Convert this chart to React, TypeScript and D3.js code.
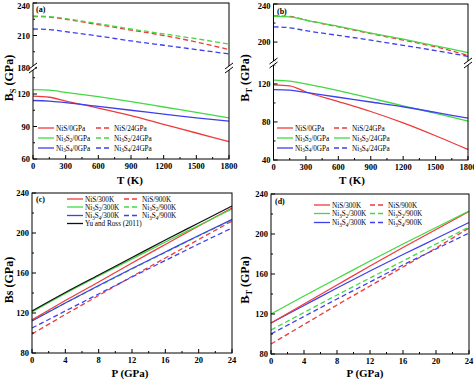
import React from 'react';
import * as d3 from 'd3';

// ---------- data ----------
const tempsK = [0, 150, 300, 600, 900, 1200, 1500, 1800];
const pressGPa = [0, 4, 8, 12, 16, 20, 24];

// (a) adiabatic bulk modulus vs T
const aNiS0 = [118, 117, 113.5, 107, 100, 92, 84, 76];
const aNi3S2_0 = [124, 123.5, 121.5, 117.5, 113, 108, 103, 98];
const aNi3S4_0 = [114, 113.5, 112, 108.5, 105, 101.5, 98, 95];
const aNiS24 = [227.5, 227, 225, 220, 215, 210, 204, 197];
const aNi3S2_24 = [228, 227.5, 225.5, 221, 216, 211.5, 207, 202];
const aNi3S4_24 = [216, 215.5, 213.5, 209.5, 205, 201, 197, 193];

// (b) isothermal bulk modulus vs T
const bNiS0 = [119, 118, 111.5, 101.5, 91, 79, 65.5, 51];
const bNi3S2_0 = [124, 123, 120, 113, 105, 97, 89, 81];
const bNi3S4_0 = [114, 113.5, 111, 106, 101, 96, 90, 84];
const bNiS24 = [227.5, 227, 223, 216, 209, 202, 195, 186];
const bNi3S2_24 = [227, 226.5, 223, 216.5, 209.5, 203, 196, 189];
const bNi3S4_24 = [216, 215, 212, 207, 202, 196.5, 191, 185];

// (c) adiabatic bulk modulus vs P
const cNiS300 = [113, 132.5, 151, 170, 188.5, 207, 225];
const cNi3S2_300 = [121, 139.5, 157, 174, 191, 207.5, 224];
const cNi3S4_300 = [112, 130, 147.5, 164.5, 181, 197.5, 213.5];
const cYuRoss = [122, 140.5, 158, 175.5, 193, 210, 227];
const cNiS900 = [99, 118.5, 137.5, 156.5, 175, 193.5, 212];
const cNi3S2_900 = [113, 130, 147, 164, 180.5, 197, 213];
const cNi3S4_900 = [105, 122, 139, 156, 172.5, 189, 205];

// (d) isothermal bulk modulus vs P
const dNiS300 = [111, 130, 149, 168, 186.5, 204.5, 222.5];
const dNi3S2_300 = [120, 138, 155.5, 173, 190, 206.5, 223];
const dNi3S4_300 = [111, 128.5, 146, 163, 179.5, 195.5, 211.5];
const dNiS900 = [90, 109.5, 129, 148, 167, 186, 206];
const dNi3S2_900 = [104, 121.5, 139, 156, 173, 190, 207];
const dNi3S4_900 = [100, 117.5, 135, 152, 169, 185, 201];

const tTicks = [0, 300, 600, 900, 1200, 1500, 1800];
const tMinor = [150, 450, 750, 1050, 1350, 1650];
const pTicks = [0, 4, 8, 12, 16, 20, 24];
const pMinor = [2, 6, 10, 14, 18, 22];

const RED = '#ee3b3b';
const GREEN = '#44d844';
const BLUE = '#3f3fee';
const BLACK = '#111111';
const FONT = '"Liberation Serif", "Times New Roman", serif';

type Series = { values: number[]; color: string; dashed: boolean; label: string };

const Formula = ({ label }: { label: string }) => {
  const idx = label.indexOf('/');
  if (idx < 0) return <>{label}</>;
  const formula = label.slice(0, idx);
  const rest = label.slice(idx);
  const parts: React.ReactNode[] = [];
  const re = /([A-Za-z]+)(\d*)/g;
  let m;
  let k = 0;
  let shifted = false;
  while ((m = re.exec(formula)) !== null) {
    parts.push(<tspan key={k++} dy={shifted ? -1.8 : 0}>{m[1]}</tspan>);
    shifted = false;
    if (m[2]) {
      parts.push(<tspan key={k++} dy={1.8} fontSize="0.7em">{m[2]}</tspan>);
      shifted = true;
    }
  }
  parts.push(<tspan key={k++} dy={shifted ? -1.8 : 0}>{rest}</tspan>);
  return <>{parts}</>;
};

type PanelProps = {
  left: number; right: number; top: number; bottom: number;
  xDomain: [number, number]; xs: number[]; xTicks: number[]; xMinor: number[];
  yDomain: number[]; yRange: number[]; yTicks: number[]; yMinor: number[];
  breakY?: number;
  series: Series[];
  legendCols: { x: number; ys: number[]; items: number[] }[];
  tag: string; tagPos: [number, number];
  xTitle: string; xTitlePos: [number, number];
  yTitle: React.ReactNode; yTitlePos: [number, number];
};

const Panel = (p: PanelProps) => {
  const x = d3.scaleLinear().domain(p.xDomain).range([p.left, p.right]);
  const y = d3.scaleLinear().domain(p.yDomain).range(p.yRange);
  const line = d3
    .line<number>()
    .x((_, i) => x(p.xs[i]))
    .y((d) => y(d))
    .curve(d3.curveMonotoneX);
  const tk = 4;
  const mk = 2;
  return (
    <g fontFamily={FONT}>
      {p.series.map((s, i) => (
        <path
          key={i}
          d={line(s.values) || ''}
          fill="none"
          stroke={s.color}
          strokeWidth={1.3}
          strokeDasharray={s.dashed ? '5,3' : undefined}
        />
      ))}
      <rect x={p.left} y={p.top} width={p.right - p.left} height={p.bottom - p.top} fill="none" stroke="#000" strokeWidth={1} />
      {p.xTicks.map((t) => (
        <g key={'xt' + t}>
          <line x1={x(t)} x2={x(t)} y1={p.bottom} y2={p.bottom - tk} stroke="#000" />
          <text x={x(t)} y={p.bottom + 10} fontSize={8.5} fontWeight="bold" textAnchor="middle">{t}</text>
        </g>
      ))}
      {p.xMinor.map((t) => (
        <line key={'xm' + t} x1={x(t)} x2={x(t)} y1={p.bottom} y2={p.bottom - mk} stroke="#000" />
      ))}
      {p.yTicks.map((t) => (
        <g key={'yt' + t}>
          <line x1={p.left} x2={p.left + tk} y1={y(t)} y2={y(t)} stroke="#000" />
          <text x={p.left - 3} y={Math.max(y(t) + 3, 8.5)} fontSize={8.5} fontWeight="bold" textAnchor="end">{t}</text>
        </g>
      ))}
      {p.yMinor.map((t) => (
        <line key={'ym' + t} x1={p.left} x2={p.left + mk} y1={y(t)} y2={y(t)} stroke="#000" />
      ))}
      {p.breakY !== undefined &&
        [p.left, p.right].map((bx) => (
          <g key={'br' + bx}>
            <rect x={bx - 2} y={p.breakY! - 2} width={4} height={4} fill="#fff" />
            <line x1={bx - 4} y1={p.breakY! + 1} x2={bx + 4} y2={p.breakY! - 5} stroke="#000" strokeWidth={1} />
            <line x1={bx - 4} y1={p.breakY! + 5} x2={bx + 4} y2={p.breakY! - 1} stroke="#000" strokeWidth={1} />
          </g>
        ))}
      {p.legendCols.map((col, ci) =>
        col.items.map((si, ri) => {
          const s = p.series[si];
          const ly = col.ys[ri];
          return (
            <g key={'lg' + ci + '_' + ri}>
              <line x1={col.x} x2={col.x + 16} y1={ly} y2={ly} stroke={s.color} strokeWidth={1.3} strokeDasharray={s.dashed ? '5,3' : undefined} />
              <text x={col.x + 18} y={ly + 2.5} fontSize={7.2}>
                <Formula label={s.label} />
              </text>
            </g>
          );
        })
      )}
      <text x={p.tagPos[0]} y={p.tagPos[1]} fontSize={8} fontWeight="bold">{p.tag}</text>
      <text x={p.xTitlePos[0]} y={p.xTitlePos[1]} fontSize={11} fontWeight="bold" textAnchor="middle">{p.xTitle}</text>
      <text
        transform={`translate(${p.yTitlePos[0]},${p.yTitlePos[1]}) rotate(-90)`}
        fontSize={12}
        fontWeight="bold"
        textAnchor="middle"
      >
        {p.yTitle}
      </text>
    </g>
  );
};

const BSub = ({ s }: { s: string }) => (
  <>
    B<tspan dy={2.5} fontSize="0.7em">{s}</tspan>
    <tspan dy={-2.5}> (GPa)</tspan>
  </>
);

export default function App() {
  const seriesA: Series[] = [
    { values: aNiS0, color: RED, dashed: false, label: 'NiS/0GPa' },
    { values: aNi3S2_0, color: GREEN, dashed: false, label: 'Ni3S2/0GPa' },
    { values: aNi3S4_0, color: BLUE, dashed: false, label: 'Ni3S4/0GPa' },
    { values: aNiS24, color: RED, dashed: true, label: 'NiS/24GPa' },
    { values: aNi3S2_24, color: GREEN, dashed: true, label: 'Ni3S2/24GPa' },
    { values: aNi3S4_24, color: BLUE, dashed: true, label: 'Ni3S4/24GPa' },
  ];
  const seriesB: Series[] = [
    { values: bNiS0, color: RED, dashed: false, label: 'NiS/0GPa' },
    { values: bNi3S2_0, color: GREEN, dashed: false, label: 'Ni3S2/0GPa' },
    { values: bNi3S4_0, color: BLUE, dashed: false, label: 'Ni3S4/0GPa' },
    { values: bNiS24, color: RED, dashed: true, label: 'NiS/24GPa' },
    { values: bNi3S2_24, color: GREEN, dashed: false, label: 'Ni3S2/24GPa' },
    { values: bNi3S4_24, color: BLUE, dashed: true, label: 'Ni3S4/24GPa' },
  ];
  const seriesC: Series[] = [
    { values: cNiS900, color: RED, dashed: true, label: 'NiS/900K' },
    { values: cNi3S2_900, color: GREEN, dashed: true, label: 'Ni3S2/900K' },
    { values: cNi3S4_900, color: BLUE, dashed: true, label: 'Ni3S4/900K' },
    { values: cNi3S4_300, color: BLUE, dashed: false, label: 'Ni3S4/300K' },
    { values: cNiS300, color: RED, dashed: false, label: 'NiS/300K' },
    { values: cNi3S2_300, color: GREEN, dashed: false, label: 'Ni3S2/300K' },
    { values: cYuRoss, color: BLACK, dashed: false, label: 'Yu and Ross (2011)' },
  ];
  const seriesD: Series[] = [
    { values: dNiS900, color: RED, dashed: true, label: 'NiS/900K' },
    { values: dNi3S2_900, color: GREEN, dashed: true, label: 'Ni3S2/900K' },
    { values: dNi3S4_900, color: BLUE, dashed: true, label: 'Ni3S4/900K' },
    { values: dNi3S4_300, color: BLUE, dashed: false, label: 'Ni3S4/300K' },
    { values: dNiS300, color: RED, dashed: false, label: 'NiS/300K' },
    { values: dNi3S2_300, color: GREEN, dashed: false, label: 'Ni3S2/300K' },
  ];

  return (
    <svg width={474} height={379} style={{ position: 'absolute', left: 0, top: 0, background: '#fff' }}>
      <rect width={474} height={379} fill="#fff" />
      <Panel
        left={33} right={229} top={3} bottom={159}
        xDomain={[0, 1800]} xs={tempsK} xTicks={tTicks} xMinor={tMinor}
        yDomain={[60, 144, 180, 240]} yRange={[159, 68, 68, 3]}
        yTicks={[60, 90, 120, 180, 210, 240]} yMinor={[75, 105, 135, 195, 225]}
        breakY={68}
        series={seriesA}
        legendCols={[
          { x: 38, ys: [128, 138, 148], items: [0, 1, 2] },
          { x: 96, ys: [128, 138, 148], items: [3, 4, 5] },
        ]}
        tag="(a)" tagPos={[36, 12]}
        xTitle="T (K)" xTitlePos={[130, 184]}
        yTitle={<BSub s="S" />} yTitlePos={[13, 78]}
      />
      <Panel
        left={273.5} right={468} top={4} bottom={160}
        xDomain={[0, 1800]} xs={tempsK} xTicks={tTicks} xMinor={tMinor}
        yDomain={[40, 142, 178, 240]} yRange={[160, 63, 63, 4]}
        yTicks={[40, 80, 120, 200, 240]} yMinor={[60, 100, 140, 180, 220]}
        breakY={63}
        series={seriesB}
        legendCols={[
          { x: 277, ys: [128, 138, 148], items: [0, 1, 2] },
          { x: 334, ys: [128, 138, 148], items: [3, 4, 5] },
        ]}
        tag="(b)" tagPos={[277, 14]}
        xTitle="T (K)" xTitlePos={[352, 184]}
        yTitle={<BSub s="T" />} yTitlePos={[249, 78]}
      />
      <Panel
        left={32} right={232} top={193} bottom={353}
        xDomain={[0, 24]} xs={pressGPa} xTicks={pTicks} xMinor={pMinor}
        yDomain={[80, 240]} yRange={[353, 193]}
        yTicks={[80, 120, 160, 200, 240]} yMinor={[100, 140, 180, 220]}
        series={seriesC}
        legendCols={[
          { x: 67, ys: [199, 207, 215.5, 223.5], items: [4, 5, 3, 6] },
          { x: 124, ys: [199, 207, 215.5], items: [0, 1, 2] },
        ]}
        tag="(c)" tagPos={[36, 202]}
        xTitle="P (GPa)" xTitlePos={[130, 377]}
        yTitle="Bs (GPa)" yTitlePos={[13, 280]}
      />
      <Panel
        left={271} right={469} top={194} bottom={354}
        xDomain={[0, 24]} xs={pressGPa} xTicks={pTicks} xMinor={pMinor}
        yDomain={[80, 240]} yRange={[354, 194]}
        yTicks={[80, 120, 160, 200, 240]} yMinor={[100, 140, 180, 220]}
        series={seriesD}
        legendCols={[
          { x: 314, ys: [205, 213.5, 222.5], items: [4, 5, 3] },
          { x: 370, ys: [205, 213.5, 222.5], items: [0, 1, 2] },
        ]}
        tag="(d)" tagPos={[275, 204]}
        xTitle="P (GPa)" xTitlePos={[365, 377]}
        yTitle={<BSub s="T" />} yTitlePos={[249, 280]}
      />
    </svg>
  );
}
